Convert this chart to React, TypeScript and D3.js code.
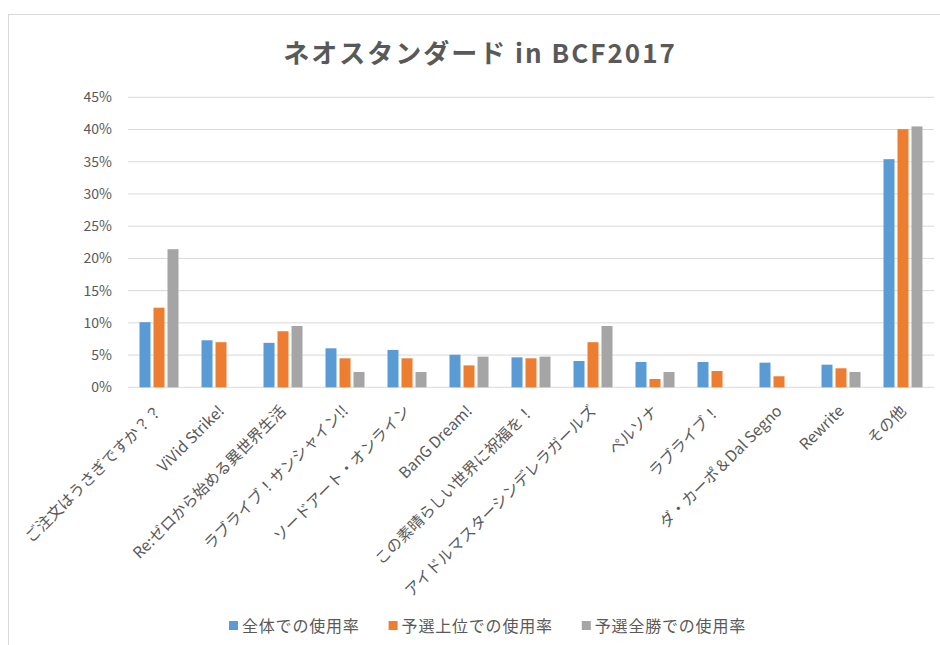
import { scaleBand, scaleLinear, range } from "d3";

const categories = [
  "ご注文はうさぎですか？？",
  "ViVid Strike!",
  "Re:ゼロから始める異世界生活",
  "ラブライブ！サンシャイン!!",
  "ソードアート・オンライン",
  "BanG Dream!",
  "この素晴らしい世界に祝福を！",
  "アイドルマスターシンデレラガールズ",
  "ペルソナ",
  "ラブライブ！",
  "ダ・カーポ＆Dal Segno",
  "Rewrite",
  "その他",
];

// usage rate, %
const overall = [10.1, 7.3, 6.9, 6.05, 5.8, 5.05, 4.65, 4.08, 3.93, 3.93, 3.82, 3.51, 35.4];
const topQualifier = [12.35, 7.0, 8.7, 4.5, 4.5, 3.4, 4.5, 7.0, 1.29, 2.53, 1.71, 2.95, 40.05];
const undefeated = [21.43, 0, 9.52, 2.38, 2.38, 4.76, 4.76, 9.52, 2.38, 0, 0, 2.38, 40.48];

const seriesNames = ["全体での使用率", "予選上位での使用率", "予選全勝での使用率"];
const seriesColors = ["#5B9BD5", "#ED7D31", "#A5A5A5"];
const yTicks = range(0, 50, 5);

const W = 940;
const H = 645;
const FONT = "'Noto Sans CJK JP', 'Noto Sans', sans-serif";
const TEXT = "#595959";

export default function App() {
  const series = [overall, topQualifier, undefeated];

  const x = scaleBand<string>().domain(categories).range([128, 934]);
  const y = scaleLinear().domain([0, 45]).range([387.3, 97.3]);

  const barW = 11;
  const step = 14;

  // legend laid out left to right
  const charW = 16.8;
  let lx = 229;
  const legend = seriesNames.map((name, i) => {
    const item = { name, color: seriesColors[i], x: lx };
    lx += 14 + name.length * charW + 28;
    return item;
  });

  return (
    <svg
      width={W}
      height={H}
      style={{ position: "absolute", left: 0, top: 0, display: "block", background: "#fff" }}
      fontFamily={FONT}
    >
      <rect x={8.5} y={14.5} width={W + 20} height={H + 20} fill="#fff" stroke="#D9D9D9" />

      <text
        x={480}
        y={63}
        textAnchor="middle"
        fontSize={26}
        fontWeight="bold"
        letterSpacing={2}
        fill={TEXT}
      >
        ネオスタンダード in BCF2017
      </text>

      {yTicks.map((t) => (
        <g key={t}>
          <line x1={128} x2={934} y1={y(t)} y2={y(t)} stroke="#D9D9D9" strokeWidth={1} />
          <text x={112} y={y(t)} dy="0.35em" textAnchor="end" fontSize={14} fill={TEXT}>
            {t}%
          </text>
        </g>
      ))}

      {categories.map((c, ci) => {
        const cx = (x(c) ?? 0) + x.bandwidth() / 2;
        return (
          <g key={c}>
            {series.map((s, si) =>
              s[ci] > 0 ? (
                <rect
                  key={si}
                  x={cx + (si - 1) * step - barW / 2}
                  y={y(s[ci])}
                  width={barW}
                  height={y(0) - y(s[ci])}
                  fill={seriesColors[si]}
                />
              ) : null
            )}
            <text
              transform={`translate(${cx + 4},${412}) rotate(-45)`}
              textAnchor="end"
              fontSize={15.5}
              fill={TEXT}
            >
              {c}
            </text>
          </g>
        );
      })}

      {legend.map((l) => (
        <g key={l.name}>
          <rect x={l.x} y={621} width={9} height={9} fill={l.color} />
          <text x={l.x + 13} y={626} dy="0.35em" fontSize={16} letterSpacing={0.8} fill={TEXT}>
            {l.name}
          </text>
        </g>
      ))}
    </svg>
  );
}
